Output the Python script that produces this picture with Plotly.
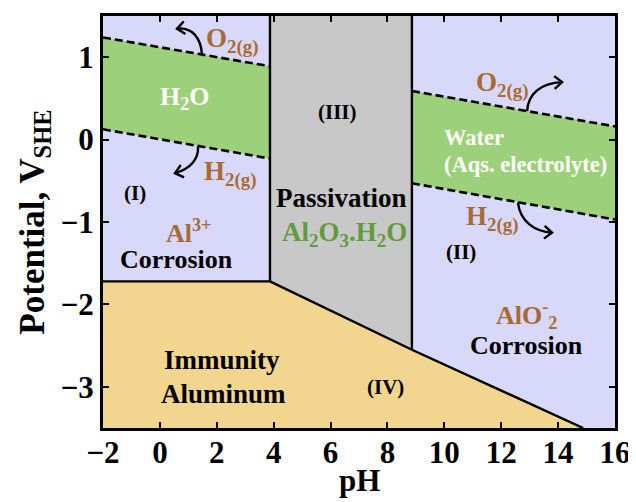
import math
import plotly.graph_objects as go

# ---------------- data ----------------
x_range = [-2, 16]
y_range = [-3.5, 1.5]
x_ticks = [-2, 0, 2, 4, 6, 8, 10, 12, 14, 16]
y_ticks = [-3, -2, -1, 0, 1]

ph_acid = 3.87          # Al3+ / Al2O3 boundary
ph_alk = 8.86           # Al2O3 / AlO2- boundary
E_al3 = -1.72           # Al3+/Al equilibrium

imm_ph = [3.87, 8.86, 14.88]    # immunity boundary
imm_E = [-1.72, -2.55, -3.5]

water_ph = [-2, 3.87, 8.86, 16]
water_O2 = [1.24, 0.89, 0.59, 0.16]     # O2 evolution line
water_H2 = [0.125, -0.23, -0.53, -0.97]  # H2 evolution line

# ---------------- styles ----------------
C_LAV = "#D8D8FA"
C_GRAY = "#C8C8C8"
C_TAN = "#F2D690"
C_GREEN = "#9DD07A"
C_BROWN = "#A86A35"
C_DGREEN = "#5E9C3C"
FONT = "Liberation Serif"

W, H = 636, 502
# page body has an 8px offset; margins compensate
ML, MT = 95, 8
PW, PH = 512, 412
MR, MB = W - ML - PW, H - MT - PH


def x2p(x):
    return ML + (x - x_range[0]) / (x_range[1] - x_range[0]) * PW


def y2p(y):
    return MT + (y_range[1] - y) / (y_range[1] - y_range[0]) * PH


def p2x(p):
    return x_range[0] + (p - ML) / PW * (x_range[1] - x_range[0])


def p2y(p):
    return y_range[1] - (p - MT) / PH * (y_range[1] - y_range[0])


fig = go.Figure()


def poly(xs, ys, color):
    fig.add_trace(go.Scatter(x=xs, y=ys, fill="toself", fillcolor=color,
                             mode="none", hoverinfo="skip", showlegend=False))


x0, x1 = x_range
y0, y1 = y_range

# Region I (Al3+ corrosion)
poly([x0, ph_acid, ph_acid, x0], [E_al3, E_al3, y1, y1], C_LAV)
# Region II (AlO2- corrosion)
poly([ph_alk, x1, x1, imm_ph[2], imm_ph[1]], [y1, y1, y0, imm_E[2], imm_E[1]], C_LAV)
# Region III (passivation)
poly([ph_acid, ph_alk, ph_alk, ph_acid], [y1, y1, imm_E[1], imm_E[0]], C_GRAY)
# Region IV (immunity)
poly([x0, imm_ph[0], imm_ph[1], imm_ph[2], x0], [E_al3, imm_E[0], imm_E[1], imm_E[2], y0], C_TAN)
# Water stability bands (only in corrosion regions)
poly([water_ph[0], water_ph[1], water_ph[1], water_ph[0]],
     [water_O2[0], water_O2[1], water_H2[1], water_H2[0]], C_GREEN)
poly([water_ph[2], water_ph[3], water_ph[3], water_ph[2]],
     [water_O2[2], water_O2[3], water_H2[3], water_H2[2]], C_GREEN)

# dashed water lines
for seg in [(0, 2), (2, 4)]:
    for yy in (water_O2, water_H2):
        fig.add_trace(go.Scatter(x=water_ph[seg[0]:seg[1]], y=yy[seg[0]:seg[1]], mode="lines",
                                 line=dict(color="black", width=2.6, dash="8px,4px"),
                                 hoverinfo="skip", showlegend=False))

# solid phase boundaries
bl = dict(color="black", width=2.4)
fig.add_trace(go.Scatter(x=[x0, ph_acid], y=[E_al3, E_al3], mode="lines", line=bl, hoverinfo="skip", showlegend=False))
fig.add_trace(go.Scatter(x=[ph_acid, ph_acid], y=[y1, imm_E[0]], mode="lines", line=bl, hoverinfo="skip", showlegend=False))
fig.add_trace(go.Scatter(x=[ph_alk, ph_alk], y=[y1, imm_E[1]], mode="lines", line=bl, hoverinfo="skip", showlegend=False))
fig.add_trace(go.Scatter(x=imm_ph, y=imm_E, mode="lines", line=bl, hoverinfo="skip", showlegend=False))

# curved arrows: start in data coords, offsets (c1, c2, end) in screen px
arrows = [
    ((1.48, 1.03), (-1, -17), (-10, -28), (-25, -26)),
    ((1.34, -0.08), (1, 13), (-8, 23), (-23, 27)),
    ((12.91, 0.345), (1, -17), (13, -28), (35, -29)),
    ((12.59, -0.765), (2, 19), (17, 29), (34, 30)),
]
shapes = []
for (sx, sy), c1, c2, e in arrows:
    spx, spy = x2p(sx), y2p(sy)
    pts = [(spx + o[0], spy + o[1]) for o in (c1, c2, e)]
    path = "M {},{} C {},{} {},{} {},{}".format(
        sx, sy, p2x(pts[0][0]), p2y(pts[0][1]), p2x(pts[1][0]), p2y(pts[1][1]),
        p2x(pts[2][0]), p2y(pts[2][1]))
    shapes.append(dict(type="path", path=path, xref="x", yref="y",
                       line=dict(color="black", width=2.4)))
    ex, ey = pts[2]
    dx, dy = ex - pts[1][0], ey - pts[1][1]
    n = math.hypot(dx, dy)
    dx, dy = dx / n, dy / n
    wings = []
    for ang in (math.radians(40), -math.radians(40)):
        rx = -dx * math.cos(ang) + dy * math.sin(ang)
        ry = -dx * math.sin(ang) - dy * math.cos(ang)
        wings.append((ex + 10 * rx, ey + 10 * ry))
    hp = "M {},{} L {},{} L {},{}".format(p2x(wings[0][0]), p2y(wings[0][1]), p2x(ex), p2y(ey),
                                        p2x(wings[1][0]), p2y(wings[1][1]))
    shapes.append(dict(type="path", path=hp, xref="x", yref="y",
                       line=dict(color="black", width=2.4)))


def label(x, y, text, color="black", size=25):
    fig.add_annotation(x=x, y=y, text=text, showarrow=False, xref="x", yref="y",
                       font=dict(family=FONT, size=size, color=color, weight="bold"))


label(2.57, 1.20, "O<sub>2(g)</sub>", C_BROWN, 27)
label(0.88, 0.50, "H<sub>2</sub>O", "white", 26)
label(2.47, -0.41, "H<sub>2(g)</sub>", C_BROWN, 27)
label(-0.87, -0.65, "(I)", "black", 21)
label(0.99, -1.12, "Al<sup>3+</sup>", C_BROWN, 26)
label(0.60, -1.46, "Corrosion", "black", 26)
label(6.26, 0.34, "(III)", "black", 21)
label(6.40, -0.71, "Passivation", "black", 27)
label(6.50, -1.15, "Al<sub>2</sub>O<sub>3</sub>.H<sub>2</sub>O", C_DGREEN, 27)
label(12.03, 0.67, "O<sub>2(g)</sub>", C_BROWN, 27)
label(11.05, 0.02, "Water", "white", 22.5)
label(12.87, -0.30, "(Aqs. electrolyte)", "white", 22.5)
label(11.71, -0.96, "H<sub>2(g)</sub>", C_BROWN, 27)
label(10.60, -1.36, "(II)", "black", 21)
label(12.90, -2.13, "AlO<sup>-</sup><sub>2</sub>", C_BROWN, 26)
label(12.90, -2.50, "Corrosion", "black", 26)
label(2.18, -2.67, "Immunity", "black", 27)
label(2.25, -3.09, "Aluminum", "black", 27)
label(7.92, -3.00, "(IV)", "black", 21)

# x-axis title placed as paper annotation (centre about 52 px under the axis)
fig.add_annotation(x=0.5, y=-52 / PH, xref="paper", yref="paper", text="pH",
                   showarrow=False, xanchor="center", yanchor="middle",
                   font=dict(family=FONT, size=31, color="black", weight="bold"))

axis_common = dict(showline=True, linewidth=3, linecolor="black", mirror="ticks",
                   ticks="inside", ticklen=6, tickwidth=2, tickcolor="black",
                   showgrid=False, zeroline=False,
                   tickfont=dict(family=FONT, size=31, color="black", weight="bold"))

fig.update_layout(
    width=W, height=H,
    margin=dict(l=ML, r=MR, t=MT, b=MB, autoexpand=False),
    paper_bgcolor="white", plot_bgcolor="white",
    showlegend=False,
    shapes=shapes,
    xaxis=dict(range=x_range, tickvals=x_ticks, ticklabelstandoff=-5, **axis_common),
    yaxis=dict(range=y_range, tickvals=y_ticks, **axis_common,
               title=dict(text="Potential, V<sub>SHE</sub>", standoff=6,
                          font=dict(family=FONT, size=35, color="black", weight="bold"))),
)

fig.write_html("out.html")
